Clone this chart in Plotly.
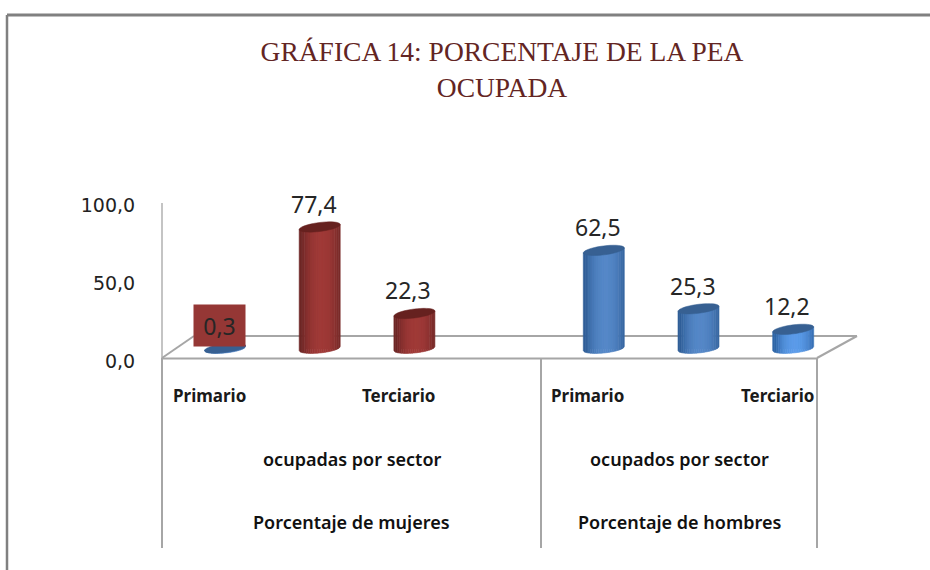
import math
import plotly.graph_objects as go

W, H = 930, 570

# ---- data ----
slots = [0, 1, 2, 4, 5, 6]
values = [0.3, 77.4, 22.3, 62.5, 25.3, 12.2]
value_labels = ["0,3", "77,4", "22,3", "62,5", "25,3", "12,2"]
tick_vals = [0, 50, 100]
tick_labels = ["0,0", "50,0", "100,0"]
sector_slots = [0, 2, 4, 6]
sector_labels = ["Primario", "Terciario", "Primario", "Terciario"]
group_slots = [1.506, 4.969]
group_line1 = ["ocupadas por sector", "ocupados por sector"]
group_line2 = ["Porcentaje de mujeres", "Porcentaje de hombres"]
title_text = "GRÁFICA 14: PORCENTAJE DE LA PEA<br>OCUPADA"

# colours per bar: (side dark, side light, top)
RED = ((0x6e, 0x26, 0x25), (0xa0, 0x3a, 0x38), "#66211f")
BLUE = ((0x30, 0x5f, 0x98), (0x55, 0x88, 0xc8), "#376092")
BLUE2 = ((0x2f, 0x66, 0xa8), (0x5c, 0x9c, 0xea), "#376092")
styles = [BLUE, RED, RED, BLUE, BLUE, BLUE2]
bar_colors = ["#4f81bd", "#953735", "#953735", "#4f81bd", "#4f81bd", "#4f81bd"]

# ---- pixel layout ----
PX_SLOT = 94.7
X0_PX = 225.0          # pixel centre of slot 0 in the bar plane
Y0_PX = 348.5          # value 0 in the bar plane
PX_UNIT = 1.57
HALF_W = 20.5
TILT = 2.5
EY = 4.5
Y_MIN = -10            # room under zero so the rounded cylinder bases are not clipped

x_left = X0_PX - 0.5 * PX_SLOT
x_right = X0_PX + 6.5 * PX_SLOT
y_top = Y0_PX - 100 * PX_UNIT
y_bottom = Y0_PX - Y_MIN * PX_UNIT


def px(x):
    return x / W


def py(y):
    return 1 - y / H


def dx(p):
    return p / PX_SLOT


def dy(p):
    return p / PX_UNIT


def mix(a, b, f):
    return "rgb(%d,%d,%d)" % tuple(round(a[i] + (b[i] - a[i]) * f) for i in range(3))


def cylinder_shapes(c, v, style):
    out = []
    dark, light, top = style
    n = 22
    hw = dx(HALF_W)
    for i in range(n):
        t0 = -1 + 2 * i / n
        t1 = -1 + 2 * (i + 1) / n
        pts_t = [t0 + (t1 - t0) * k / 3 for k in range(4)]
        mid = (t0 + t1) / 2
        # light centre slightly right of the middle, dark edges
        f = max(0.0, 1 - abs(mid - 0.1) ** 2.2 * 1.1)
        lower = [dy(TILT * t * 0.8 - EY * math.sqrt(max(0, 1 - t * t))) for t in pts_t]
        upper = [v + dy(TILT * t) for t in pts_t]
        path = "M " + " L ".join(f"{c + t * hw:.4f},{y:.4f}" for t, y in zip(pts_t, lower))
        path += " L " + " L ".join(
            f"{c + t * hw:.4f},{y:.4f}" for t, y in reversed(list(zip(pts_t, upper)))
        ) + " Z"
        col = mix(dark, light, f)
        out.append(dict(type="path", path=path, xref="x", yref="y", fillcolor=col,
                        line=dict(color=col, width=0.6), layer="above"))
    pts = []
    for k in range(40):
        a = 2 * math.pi * k / 40
        ct, st = math.cos(a), math.sin(a)
        pts.append(f"{c + ct * hw:.4f},{v + dy(TILT * ct + EY * st):.4f}")
    out.append(dict(type="path", path="M " + " L ".join(pts) + " Z", xref="x", yref="y",
                    fillcolor=top, line=dict(color=top, width=0.5), layer="above"))
    return out


FRAME = "#808080"
GRID = "#a6a6a6"


def seg(x0, y0, x1, y1, color=GRID, width=2):
    return dict(type="line", xref="paper", yref="paper", x0=px(x0), y0=py(y0), x1=px(x1), y1=py(y1),
                line=dict(color=color, width=width), layer="below")


shapes = [
    seg(7, 15, 930, 15, FRAME, 3),
    seg(7, 15, 7, 570, FRAME, 2.5),
    seg(162, 203, 162, 358, "#c4c4c4", 2),   # wall
    seg(162, 358.5, 817, 358.5),  # floor front
    seg(194, 336, 857, 336),      # floor back
    seg(162, 358, 194, 336),
    seg(817, 358, 857, 336),
    seg(162, 358, 162, 548),
    seg(541, 358, 541, 548),
    seg(817, 358, 817, 548),
]
for c, v, s in zip(slots, values, styles):
    shapes.extend(cylinder_shapes(c, v, s))

annotations = []
for i, (c, v, lab) in enumerate(zip(slots, values, value_labels)):
    a = dict(x=c, y=v, xref="x", yref="y", text=lab, showarrow=False, xshift=-6, yshift=23,
             font=dict(family="Noto Sans", size=23, color="#262626"))
    if i == 0:
        a.update(bgcolor="#953735", width=49, height=39)
    annotations.append(a)

for c, lab in zip(sector_slots, sector_labels):
    annotations.append(dict(x=c, y=py(395), xref="x", yref="paper", yanchor="middle", text=f"<b>{lab}</b>",
                            xshift=-16, showarrow=False,
                            font=dict(family="Noto Sans", size=17, color="#1a1a1a")))
for c, l1, l2 in zip(group_slots, group_line1, group_line2):
    annotations.append(dict(x=c, y=py(459), xref="x", yref="paper", yanchor="middle", text=l1, xshift=-16,
                            showarrow=False, font=dict(family="Noto Sans", size=18, weight=600, color="#111111")))
    annotations.append(dict(x=c, y=py(522), xref="x", yref="paper", yanchor="middle", text=l2, xshift=-16,
                            showarrow=False, font=dict(family="Noto Sans", size=18, weight=600, color="#111111")))

fig = go.Figure()
fig.add_trace(go.Bar(x=slots, y=values, width=0.3, marker=dict(color=bar_colors, line=dict(width=0)),
                     showlegend=False, hoverinfo="skip"))
fig.add_trace(go.Scatter(x=[0], y=[0], yaxis="y2", mode="none", showlegend=False, hoverinfo="skip"))

fig.update_layout(
    width=W, height=H, autosize=False,
    margin=dict(l=0, r=0, t=0, b=0, autoexpand=False),
    paper_bgcolor="white", plot_bgcolor="rgba(0,0,0,0)",
    showlegend=False,
    title=dict(text=title_text, x=px(502), xanchor="center", y=py(61), yanchor="middle",
               font=dict(family="Liberation Serif", size=27.5, color="#632523")),
    xaxis=dict(domain=[px(x_left), px(x_right)], range=[-0.5, 6.5], visible=False, fixedrange=True),
    yaxis=dict(domain=[py(y_bottom), py(y_top)], range=[Y_MIN, 100], visible=False, fixedrange=True),
    yaxis2=dict(domain=[py(361), py(205)], range=[0, 100], anchor="free", position=px(162), side="left",
                tickvals=tick_vals, ticktext=tick_labels, showgrid=False, zeroline=False,
                showline=False,
                ticks="outside", ticklen=23, tickcolor="rgba(0,0,0,0)",
                tickfont=dict(family="DejaVu Sans", size=19, color="#222222"), fixedrange=True),
    shapes=shapes,
    annotations=annotations,
    bargap=0,
)

fig.write_html("out.html", config={"displayModeBar": False},
               post_script="document.body.style.margin='0';document.body.style.overflow='hidden';")
